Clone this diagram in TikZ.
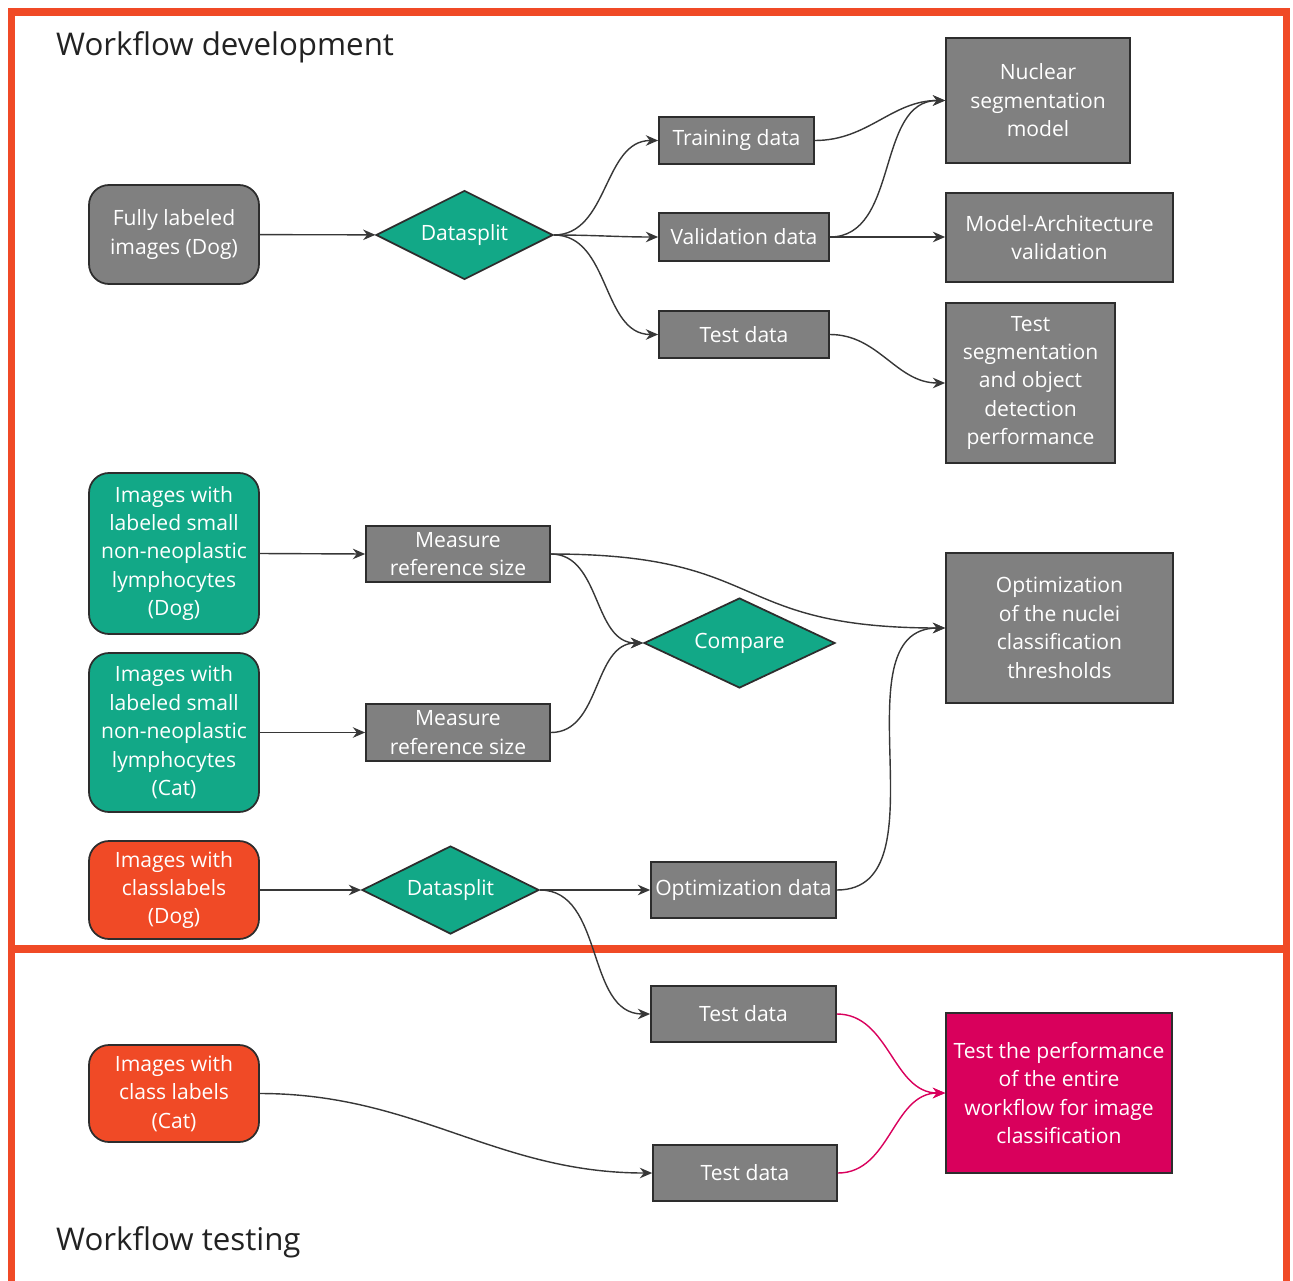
\documentclass[tikz,border=0pt]{standalone}
\usepackage{fontspec}
\setmainfont{Open Sans}
\usepackage{tikz}
\usetikzlibrary{
  positioning,
  arrows.meta,
  shapes.geometric
}
\definecolor{FrameRed}{RGB}{240,74,38}
\definecolor{BoxGray}{RGB}{128,128,128}
\definecolor{BoxBorder}{RGB}{45,45,45}
\definecolor{SplitGreen}{RGB}{18,168,135}
\definecolor{SourceRed}{RGB}{240,74,38}
\definecolor{ResultPink}{RGB}{217,0,92}
\definecolor{EdgeColor}{RGB}{55,55,55}
\definecolor{TitleText}{RGB}{34,34,34}
\newcommand{\px}{0.02cm}
\tikzset{
  % Any box with white text
  nodebox/.style={
    draw=BoxBorder,
    line width=1pt,
    fill=BoxGray,
    text=white,
    align=center,
    inner sep=0pt,
    font=\fontsize{12}{16.2}\selectfont
  },
  % Input images (rounded)
  srcbox/.style={nodebox, rounded corners=0.4cm, minimum width=170*\px},
  % Data / step boxes
  databox/.style={nodebox, rectangle},
  % Decision diamond
  splitnode/.style={nodebox, diamond, shape aspect=2, fill=SplitGreen},
  % Connectors
  flow/.style={
    draw=EdgeColor,
    line width=0.8pt,
    -{Stealth[length=7pt,width=6pt]}
  },
  pflow/.style={flow, draw=ResultPink, -{Stealth[length=7pt,width=6pt,fill=ResultPink]}},
  % Frames and titles
  frame/.style={draw=FrameRed, line width=4pt},
  paneltitle/.style={anchor=west, text=TitleText, font=\fontsize{17.8}{20}\selectfont}
}

\begin{document}
\begin{tikzpicture}[x=\px, y=-\px]
  \useasboundingbox (0,0) rectangle (1293,1280);
  % Frames
  \draw[frame] (11.5,12) rectangle (1286,949);
  \draw[frame] (11.5,949) -- (11.5,1300);
  \draw[frame] (1286,949) -- (1286,1300);
  \node[paneltitle] (devtitle) at (50,47) {Workflow development};
  \node[paneltitle] (testtitle) at (50,1242) {Workflow testing};

  % Nuclear segmentation part
  \node[srcbox, minimum height=99*\px] (fulldog) at (174,234.5) {Fully labeled\\images (Dog)};
  \node[splitnode, minimum width=177*\px, minimum height=89*\px] (split1) at (464.5,235) {Datasplit};
  \node[databox, minimum width=155*\px, minimum height=47*\px] (train) at (736.5,140.5) {Training data};
  \node[databox, minimum width=170*\px, minimum height=48*\px] (valid) at (744,237) {Validation data};
  \node[databox, minimum width=170*\px, minimum height=47*\px] (test1) at (744,334.5) {Test data};
  \node[databox, minimum width=184*\px, minimum height=125*\px] (nucmodel) at (1038,100.5) {Nuclear\\segmentation\\model};
  \node[databox, minimum width=227*\px, minimum height=89*\px] (archval) at (1059.5,237.5) {Model-Architecture\\validation};
  \node[databox, minimum width=169*\px, minimum height=160*\px] (segperf) at (1030.5,383) {Test\\segmentation\\and object\\detection\\performance};

  % Lymphocyte reference size part
  \node[srcbox, fill=SplitGreen, minimum height=161*\px] (lymdog) at (174,553.5) {Images with\\labeled small\\non-neoplastic\\lymphocytes\\(Dog)};
  \node[srcbox, fill=SplitGreen, minimum height=159*\px] (lymcat) at (174,732.5) {Images with\\labeled small\\non-neoplastic\\lymphocytes\\(Cat)};
  \node[databox, minimum width=184*\px, minimum height=56*\px] (measure1) at (458,554) {Measure\\reference size};
  \node[databox, minimum width=184*\px, minimum height=57*\px] (measure2) at (458,732.5) {Measure\\reference size};
  \node[splitnode, minimum width=191*\px, minimum height=90*\px] (compare) at (739.5,643) {Compare};
  \node[databox, minimum width=227*\px, minimum height=150*\px] (thresh) at (1059.5,628) {Optimization\\of the nuclei\\classification\\thresholds};

  % Classification part
  \node[srcbox, fill=SourceRed, minimum height=98*\px] (clsdog) at (174,890) {Images with\\classlabels\\(Dog)};
  \node[splitnode, minimum width=177*\px, minimum height=88*\px] (split2) at (450.5,890) {Datasplit};
  \node[databox, minimum width=185*\px, minimum height=56*\px] (optdata) at (743.5,890) {Optimization data};
  \node[databox, minimum width=185*\px, minimum height=56*\px] (test2) at (743.5,1014) {Test data};
  \node[srcbox, fill=SourceRed, minimum height=97*\px] (clscat) at (174,1093.5) {Images with\\class labels\\(Cat)};
  \node[databox, minimum width=184*\px, minimum height=56*\px] (test3) at (745,1173) {Test data};
  \node[databox, fill=ResultPink, minimum width=226*\px, minimum height=160*\px] (wholeperf) at (1059,1093) {Test the performance\\of the entire\\workflow for image\\classification};

  % Connectors
  \draw[flow] (fulldog) -- (split1);
  \draw[flow] (split1.east) to[out=0, in=180] (train.west);
  \draw[flow] (split1.east) to[out=0, in=180] (valid.west);
  \draw[flow] (split1.east) to[out=0, in=180] (test1.west);
  \draw[flow] (train.east) to[out=0, in=180] (nucmodel.west);
  \draw[flow] (valid.east) to[out=0, in=180] (nucmodel.west);
  \draw[flow] (valid.east) -- (archval.west |- valid.east);
  \draw[flow] (test1.east) to[out=0, in=180] (segperf.west);

  \draw[flow] (lymdog.east) -- (measure1.west);
  \draw[flow] (lymcat.east) -- (measure2.west);
  \draw[flow] (measure1.east) to[out=0, in=180] (compare.west);
  \draw[flow] (measure2.east) to[out=0, in=180] (compare.west);
  \draw[flow] (measure1.east) to[out=0, in=180, looseness=1.4] (thresh.west);

  \draw[flow] (clsdog.east) -- (split2.west);
  \draw[flow] (split2.east) -- (optdata.west);
  \draw[flow] (split2.east) to[out=0, in=180] (test2.west);
  \draw[flow] (optdata.east) to[out=0, in=180] (thresh.west);
  \draw[flow] (clscat.east) to[out=0, in=180] (test3.west);
  \draw[pflow] (test2.east) to[out=0, in=180] (wholeperf.west);
  \draw[pflow] (test3.east) to[out=0, in=180] (wholeperf.west);
\end{tikzpicture}
\end{document}
